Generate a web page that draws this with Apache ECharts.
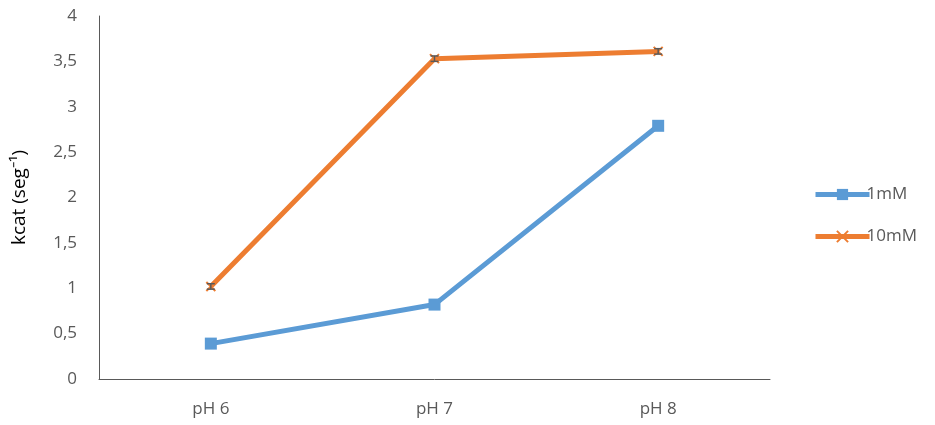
<!DOCTYPE html>
<html><head><meta charset="utf-8">
<script src="https://cdn.jsdelivr.net/npm/echarts@6/dist/echarts.min.js"></script>
<style>html,body{margin:0;padding:0;background:#fff}#c{width:935px;height:425px}</style>
</head><body><div id="c"></div>
<script>
const categories = ['pH 6', 'pH 7', 'pH 8'];
const series1mM = [0.39, 0.82, 2.79];
const series10mM = [1.02, 3.53, 3.61];
const err10mM = [0.03, 0.03, 0.03];
const yTicks = ['0', '0,5', '1', '1,5', '2', '2,5', '3', '3,5', '4'];

const FONT = '"Open Sans", "Liberation Sans", sans-serif';
const xSym = 'path://M0,0 L10,10 M10,0 L0,10';

function errData(vals, errs) {
  return vals.map((v, i) => [i, v - errs[i], v + errs[i]]);
}
function errRender(params, api) {
  const x = api.value(0);
  const lo = api.coord([x, api.value(1)]);
  const hi = api.coord([x, api.value(2)]);
  const w = 4;
  const st = { stroke: '#595959', lineWidth: 1.5 };
  return { type: 'group', children: [
    { type: 'line', shape: { x1: lo[0], y1: lo[1], x2: hi[0], y2: hi[1] }, style: st },
    { type: 'line', shape: { x1: lo[0]-w, y1: lo[1], x2: lo[0]+w, y2: lo[1] }, style: st },
    { type: 'line', shape: { x1: hi[0]-w, y1: hi[1], x2: hi[0]+w, y2: hi[1] }, style: st }
  ]};
}

const chart = echarts.init(document.getElementById('c'));
chart.setOption({
  animation: false,
  textStyle: { fontFamily: FONT },
  grid: { left: 99, right: 165, top: 16, bottom: 46 },
  legend: {
    orient: 'vertical', left: 808, top: 181, itemGap: 25,
    itemWidth: 54, itemHeight: 14,
    lineStyle: { width: 5 },
    textStyle: { fontSize: 17, color: '#595959', fontFamily: FONT, padding: [0,0,0,-8] },
    data: ['1mM', '10mM']
  },
  xAxis: {
    type: 'category', data: categories, boundaryGap: true,
    axisLine: { lineStyle: { color: '#595959', width: 1 } },
    axisTick: { show: false },
    axisLabel: { color: '#595959', fontSize: 17, margin: 22, fontFamily: FONT }
  },
  yAxis: {
    type: 'value', min: 0, max: 4, interval: 0.5,
    name: 'kcat (seg⁻¹)', nameLocation: 'middle', nameGap: 70, nameRotate: 90,
    nameTextStyle: { fontSize: 19, color: '#000', fontFamily: FONT },
    axisLine: { show: true, lineStyle: { color: '#595959', width: 1 } },
    axisTick: { show: false },
    splitLine: { show: false },
    axisLabel: { color: '#595959', fontSize: 17, margin: 22, fontFamily: FONT,
      formatter: (v) => yTicks[Math.round(v / 0.5)] }
  },
  series: [
    { name: '1mM', type: 'line', data: series1mM, symbol: 'rect', symbolSize: 12,
      lineStyle: { color: '#5B9BD5', width: 5 }, itemStyle: { color: '#5B9BD5' }, z: 3 },
    { name: '10mM', type: 'line', data: series10mM, symbol: xSym, symbolSize: 9,
      lineStyle: { color: '#ED7D31', width: 5 },
      itemStyle: { color: '#ED7D31', borderColor: '#ED7D31', borderWidth: 2 }, z: 3 },
    { type: 'custom', data: errData(series10mM, err10mM), renderItem: errRender, z: 5, silent: true }
  ]
});
</script></body></html>
